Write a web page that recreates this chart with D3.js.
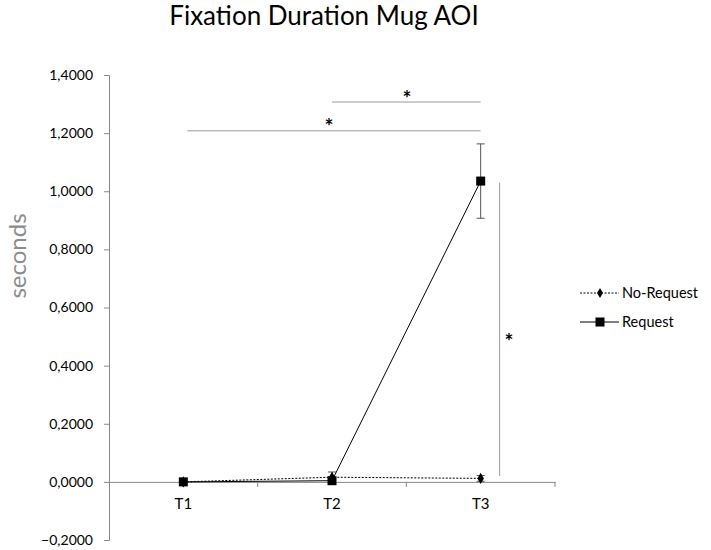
<!DOCTYPE html>
<html><head><meta charset="utf-8">
<script src="https://cdn.jsdelivr.net/npm/d3@7"></script>
<style>body{margin:0;background:#fff}</style>
</head><body>
<svg id="c" width="711" height="550"></svg>
<script>
const categories = ["T1","T2","T3"];
const noRequest = [0.000, 0.016, 0.012];
const noRequestErr = [0.000, 0.018, 0.010];
const request = [0.000, 0.004, 1.035];
const requestErr = [0.000, 0.000, 0.128];
const yTicks = [-0.2,0,0.2,0.4,0.6,0.8,1.0,1.2,1.4];
const seriesNames = ["No-Request","Request"];

(function(){
const svg = d3.select("#c");
const font = "Lato, 'Open Sans', sans-serif";
const mLeft=109, mRight=555, mTop=75, mBottom=540;
const x = d3.scaleBand().domain(categories).range([mLeft,mRight]);
const y = d3.scaleLinear().domain([-0.2,1.4]).range([mBottom,mTop]);
const fmt = v => d3.format(".4f")(v).replace(".",",");

svg.append("text").attr("x",324).attr("y",25).attr("text-anchor","middle")
  .attr("font-family",font).attr("font-size",26).attr("fill","#000").text("Fixation Duration Mug AOI");

// y axis
const ya = svg.append("g").attr("transform",`translate(${mLeft},0)`)
  .call(d3.axisLeft(y).tickValues(yTicks).tickFormat(fmt).tickSize(5).tickPadding(11));
ya.select(".domain").attr("stroke","#888");
ya.selectAll(".tick line").attr("stroke","#888");
ya.selectAll("text").attr("font-family",font).attr("font-size",14).attr("fill","#000");

// x axis at 0
const xa = svg.append("g").attr("transform",`translate(0,${y(0)})`)
  .call(d3.axisBottom(x).tickSize(0).tickPadding(16));
xa.select(".domain").attr("stroke","#888");
xa.selectAll("text").attr("font-family",font).attr("font-size",15).attr("fill","#000");
const bounds = categories.map(c=>x(c)+x.bandwidth());
svg.append("g").selectAll("line").data(bounds).join("line")
  .attr("x1",d=>d).attr("x2",d=>d).attr("y1",y(0)).attr("y2",y(0)+5).attr("stroke","#888");

svg.append("text").attr("transform",`translate(26,256) rotate(-90)`).attr("text-anchor","middle")
  .attr("font-family",font).attr("font-size",24).attr("fill","#8c8c8c").text("seconds");

const cx = c => x(c)+x.bandwidth()/2;
function errBars(vals, errs){
  const g = svg.append("g");
  categories.forEach((c,i)=>{
    if(errs[i]<=0) return;
    const X=cx(c);
    g.append("line").attr("x1",X).attr("x2",X).attr("y1",y(vals[i]+errs[i])).attr("y2",y(vals[i]-errs[i])).attr("stroke","#555");
    [vals[i]+errs[i], vals[i]-errs[i]].forEach(v=>g.append("line").attr("x1",X-4).attr("x2",X+4).attr("y1",y(v)).attr("y2",y(v)).attr("stroke","#555"));
  });
}
errBars(request, requestErr);
errBars(noRequest, noRequestErr);

const line = d3.line().x((d,i)=>cx(categories[i])).y(d=>y(d));
svg.append("path").datum(request).attr("d",line).attr("fill","none").attr("stroke","#000").attr("stroke-width",1);
svg.append("path").datum(noRequest).attr("d",line).attr("fill","none").attr("stroke","#000").attr("stroke-width",1).attr("stroke-dasharray","2,1.5");

svg.append("g").selectAll("rect").data(request).join("rect")
  .attr("x",(d,i)=>cx(categories[i])-4.5).attr("y",d=>y(d)-4.5).attr("width",9).attr("height",9).attr("fill","#000");
svg.append("g").selectAll("path").data(noRequest).join("path")
  .attr("transform",(d,i)=>`translate(${cx(categories[i])},${y(d)})`)
  .attr("d",d3.symbol(d3.symbolDiamond,36)).attr("fill","#000");

// significance
const sig = svg.append("g").attr("stroke","#999").attr("stroke-width",1);
sig.append("line").attr("x1",cx("T2")).attr("x2",cx("T3")).attr("y1",y(1.307)).attr("y2",y(1.307));
sig.append("line").attr("x1",cx("T1")+4).attr("x2",cx("T3")).attr("y1",y(1.208)).attr("y2",y(1.208));
sig.append("line").attr("x1",cx("T3")+19).attr("x2",cx("T3")+19).attr("y1",y(1.03)).attr("y2",y(0.02));
const stars=[[ 407, 95],[ 329, 123],[509, 338]];
svg.append("g").selectAll("text").data(stars).join("text")
  .attr("x",d=>d[0]).attr("y",d=>d[1]+10.5).attr("text-anchor","middle")
  .attr("font-family",font).attr("font-size",21).attr("font-weight","bold").attr("fill","#000").text("*");

// legend
const lg = svg.append("g").attr("transform","translate(580,0)");
seriesNames.forEach((n,i)=>{
  const yy = 293+i*29;
  lg.append("line").attr("x1",0).attr("x2",39).attr("y1",yy).attr("y2",yy).attr("stroke","#000")
    .attr("stroke-dasharray", i===0?"2,1.5":null);
  if(i===0) lg.append("path").attr("transform",`translate(20,${yy})`).attr("d",d3.symbol(d3.symbolDiamond,30)).attr("fill","#000");
  else lg.append("rect").attr("x",15.5).attr("y",yy-4.5).attr("width",9).attr("height",9).attr("fill","#000");
  lg.append("text").attr("x",42).attr("y",yy+5).attr("font-family",font).attr("font-size",14.5).attr("fill","#000").text(n);
});
})();
</script>
</body></html>
